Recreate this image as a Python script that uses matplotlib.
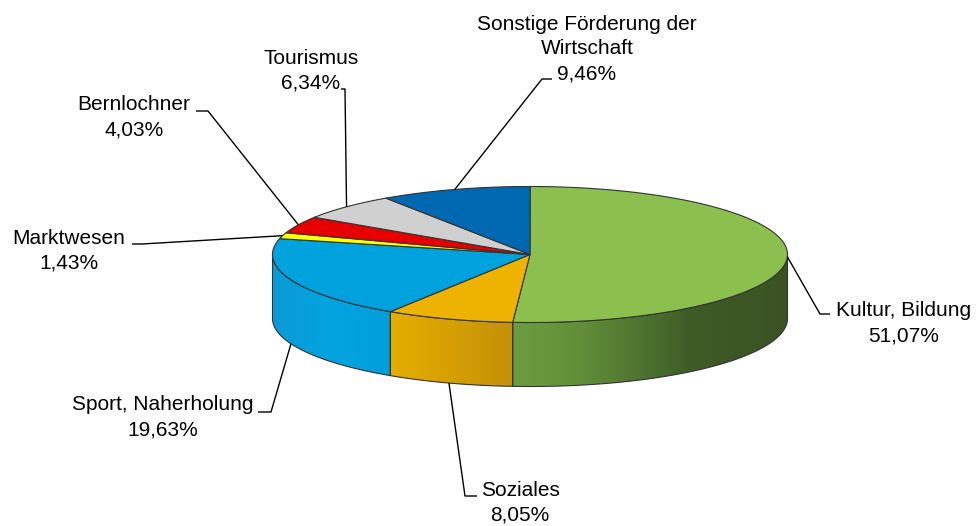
import numpy as np
import matplotlib.pyplot as plt
from matplotlib.patches import Polygon
from matplotlib.colors import LinearSegmentedColormap

plt.rcParams['font.family'] = ['Liberation Sans', 'DejaVu Sans']

# data
names = ["Kultur, Bildung", "Soziales", "Sport, Naherholung", "Marktwesen",
         "Bernlochner", "Tourismus", "Sonstige Förderung der\nWirtschaft"]
shares = [51.07, 8.05, 19.63, 1.43, 4.03, 6.34, 9.46]
pct_labels = ["51,07%", "8,05%", "19,63%", "1,43%", "4,03%", "6,34%", "9,46%"]

top_colors = ["#8BC04F", "#EEB300", "#00A2DE", "#FFFF00", "#E60000", "#D0D0D0", "#0068B0"]
side_stops = {
    0: [(0.0, "#6C9D3F"), (0.25, "#618F39"), (0.65, "#3E5B26"), (1.0, "#3B5323")],
    1: [(0.0, "#E6AE00"), (1.0, "#C49008")],
    2: [(0.0, "#0A9AD6"), (0.5, "#04A4E0"), (1.0, "#009FDC")],
}

# layout (pixels)
cx, cy, rx, ry, depth = 530, 254.5, 257.5, 68, 64
label_pos = [(904, 311), (520, 490), (163, 405), (69, 238), (134, 105), (311, 58), (587, 24)]
tick_end = [(830, 314), (477, 496), (258, 412), (132, 244), (196, 111), (341, 89), (552, 79)]
tick_elbow = [(820, 314), (465, 496), (271, 412), (142, 244), (208, 111), (345, 89), (542, 79)]

fig = plt.figure(figsize=(9.8, 5.26), dpi=100)
ax = fig.add_axes([0, 0, 1, 1])
ax.set_xlim(0, 980)
ax.set_ylim(526, 0)
ax.axis('off')


def ell(th, dy=0):
    t = np.radians(th)
    return np.column_stack([cx + rx * np.cos(t), cy - ry * np.sin(t) + dy])


edge = "#333333"
start = 90.0
angles = []
for s in shares:
    end = start - s * 3.6
    angles.append((start, end))
    start = end

# side walls (front half only)
for i, (a1, a2) in enumerate(angles):
    hi, lo = min(a1, 0), max(a2, -180)
    if hi <= lo:
        continue
    th = np.linspace(hi, lo, 120)
    pts = np.vstack([ell(th), ell(th[::-1], depth)])
    poly = Polygon(pts, closed=True, facecolor='none', edgecolor=edge, lw=0.8, zorder=3)
    ax.add_patch(poly)
    x0, x1 = pts[:, 0].min(), pts[:, 0].max()
    y0, y1 = pts[:, 1].min(), pts[:, 1].max()
    cmap = LinearSegmentedColormap.from_list("s%d" % i, side_stops[i])
    grad = np.linspace(0, 1, 256)[None, :]
    im = ax.imshow(grad, cmap=cmap, extent=[x0, x1, y1, y0], aspect='auto', zorder=2)
    im.set_clip_path(poly)

ax.set_xlim(0, 980)
ax.set_ylim(526, 0)

# top wedges
for i, (a1, a2) in enumerate(angles):
    th = np.linspace(a1, a2, 200)
    pts = np.vstack([[cx, cy], ell(th)])
    ax.add_patch(Polygon(pts, closed=True, facecolor=top_colors[i], edgecolor=edge,
                         lw=0.8, zorder=4))

# labels and leader lines
for i, (a1, a2) in enumerate(angles):
    m = (a1 + a2) / 2
    px, py = ell(np.array([m]))[0]
    lx, ly = label_pos[i]
    if np.sin(np.radians(m)) < 0 and ly > py + depth:
        py += depth
    ex, ey = tick_elbow[i]
    tx, ty = tick_end[i]
    ax.plot([px, ex, tx], [py, ey, ty], color='black', lw=1.0, zorder=5,
            solid_capstyle='butt')
    lines = names[i].split("\n") + [pct_labels[i]]
    for k, line in enumerate(lines):
        ax.text(lx, ly + k * 25, line, ha='center', va='center', fontsize=15,
                color='black', zorder=6)

fig.savefig("out.png", dpi=100)
